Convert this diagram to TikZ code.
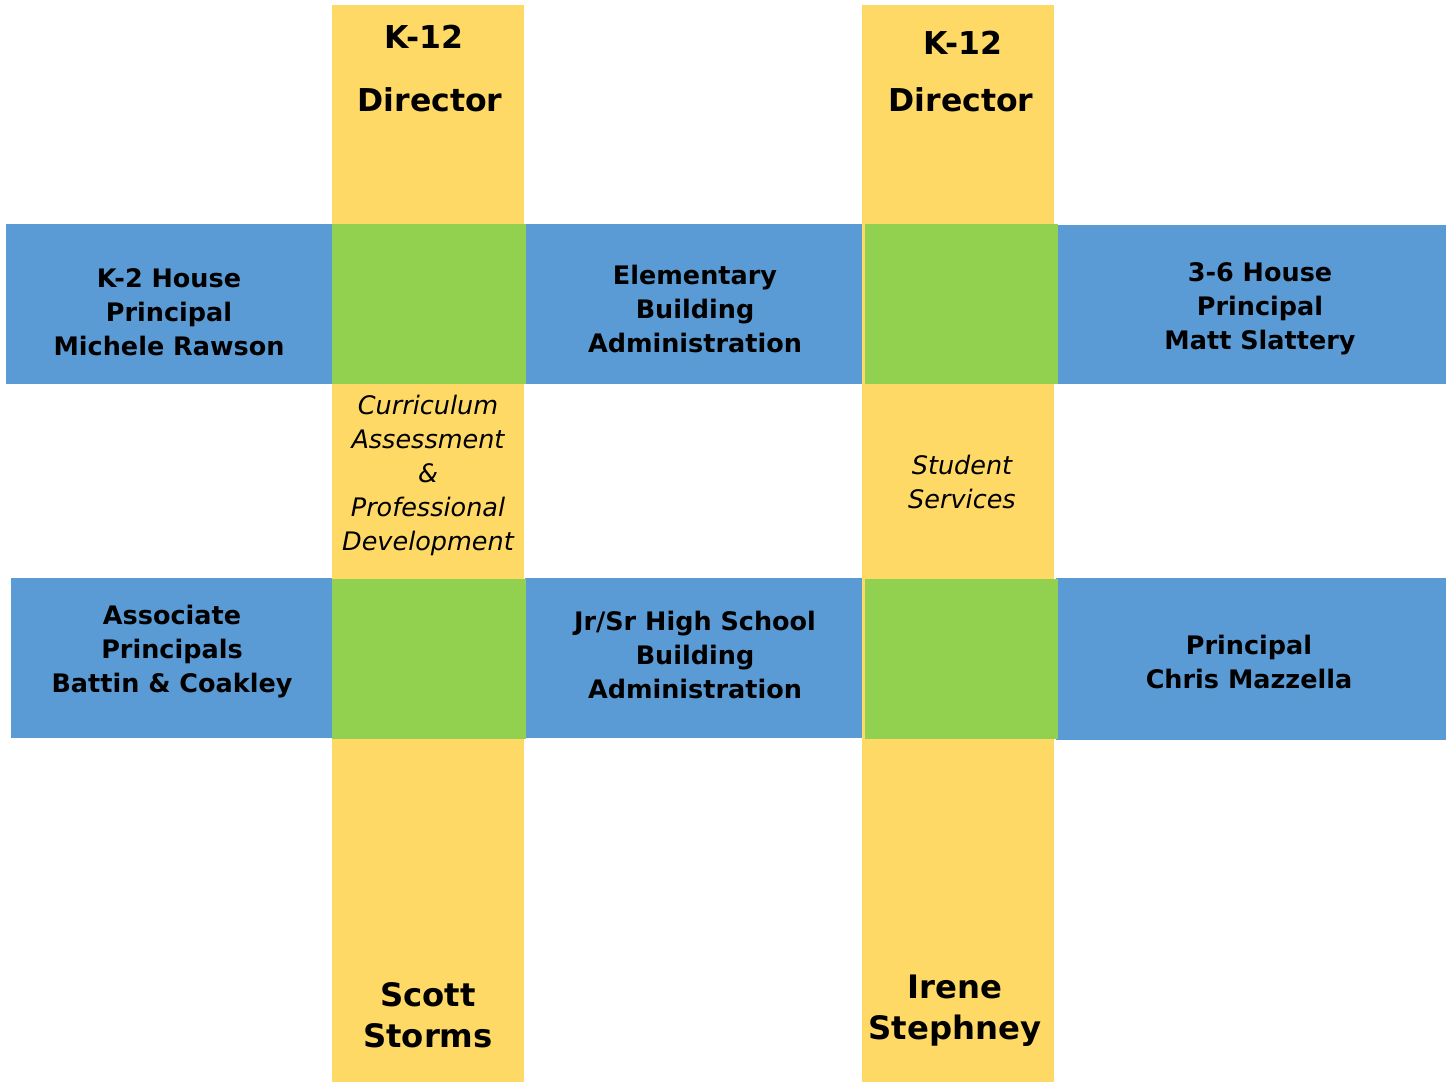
\documentclass[tikz,border=0pt]{standalone}
\usepackage{fontspec}
\setmainfont{DejaVu Sans}
\definecolor{colyellow}{HTML}{FFD966}
\definecolor{colblue}{HTML}{5B9BD5}
\definecolor{colgreen}{HTML}{92D050}
\begin{document}
\begin{tikzpicture}[x=1pt,y=-1pt,
  bluetxt/.style={align=center,inner sep=0pt,font=\fontsize{25.5}{34}\selectfont\bfseries},
  ittxt/.style={align=center,inner sep=0pt,font=\fontsize{25.5}{34}\selectfont\itshape},
  headtxt/.style={inner sep=0pt,font=\fontsize{31.5}{36}\selectfont\bfseries},
  nametxt/.style={align=center,inner sep=0pt,font=\fontsize{32.3}{41}\selectfont\bfseries}]
\useasboundingbox (0,0) rectangle (1452,1082);
\fill[white] (0,0) rectangle (1452,1082);
% yellow columns
\fill[colyellow] (332,5) rectangle (524,1082);
\fill[colyellow] (862,5) rectangle (1054,1082);
% blue bands
\fill[colblue] (6,224) rectangle (332,384);
\fill[colblue] (526,224) rectangle (862,384);
\fill[colblue] (1058,225) rectangle (1446,384);
\fill[colblue] (11,578) rectangle (332,738);
\fill[colblue] (525,578) rectangle (862,738);
\fill[colblue] (1056,578) rectangle (1446,740);
% green intersections
\fill[colgreen] (332,224) rectangle (526,384);
\fill[colgreen] (865,224) rectangle (1058,384);
\fill[colgreen] (332,579) rectangle (526,739);
\fill[colgreen] (865,579) rectangle (1058,739);
% texts
\node[headtxt] (k1) at (424,37) {K-12};
\node[headtxt] (d1) at (430,100) {Director};
\node[headtxt] (k2) at (963,43) {K-12};
\node[headtxt] (d2) at (961,100) {Director};
\node[bluetxt] (k2house) at (169,312) {K-2 House\\Principal\\Michele Rawson};
\node[bluetxt] (elem) at (695,309) {Elementary\\Building\\Administration};
\node[bluetxt] (h36) at (1260,309) {3-6 House\\Principal\\Matt Slattery};
\node[ittxt] (curr) at (428,475) {Curriculum\\Assessment\\\&\\Professional\\Development};
\node[ittxt] (stud) at (962,482) {Student\\Services};
\node[bluetxt] (assoc) at (172,652) {Associate\\Principals\\Battin \& Coakley};
\node[bluetxt] (jrsr) at (695,655) {Jr/Sr High School\\Building\\Administration};
\node[bluetxt] (princ) at (1249,662) {Principal\\Chris Mazzella};
\node[nametxt] (scott) at (428,1015) {Scott\\Storms};
\node[nametxt] (irene) at (955,1011) {Irene\\Stephney};
\end{tikzpicture}
\end{document}
